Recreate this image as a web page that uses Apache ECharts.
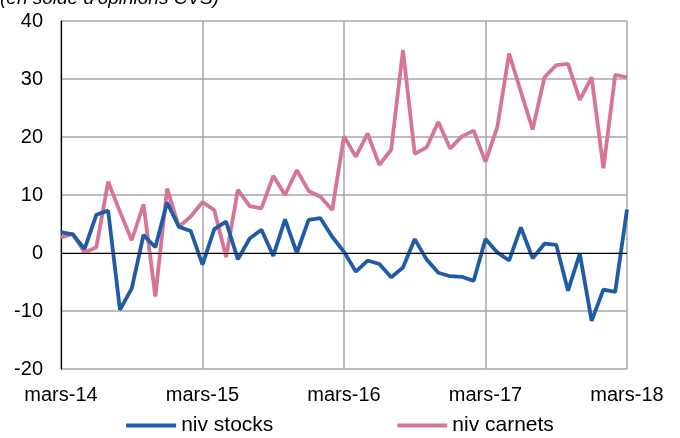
<!DOCTYPE html>
<html><head><meta charset="utf-8">
<script src="https://cdn.jsdelivr.net/npm/echarts@6/dist/echarts.min.js"></script>
<style>html,body{margin:0;padding:0;background:#fff}#c{width:680px;height:438px}</style>
</head><body><div id="c"></div>
<script>
var months = [];
var mNames = ['mars','avr','mai','juin','juil','août','sept','oct','nov','déc','janv','févr'];
// 49 monthly categories, mars-14 .. mars-18
var startYear = 14;
for (var i = 0; i < 49; i++) {
  var y = startYear + Math.floor((i + 2) / 12);
  months.push(mNames[i % 12] + '-' + y);
}
var stocks = [3.6, 3.2, 0.7, 6.6, 7.3, -9.8, -6.1, 3.1, 1.0, 8.7, 4.5, 3.8,
  -2.0, 4.1, 5.4, -1.1, 2.5, 4.0, -0.5, 5.8, 0.0, 5.7, 6.0, 2.8,
  0.2, -3.2, -1.3, -1.9, -4.2, -2.5, 2.4, -1.1, -3.4, -4.0, -4.1, -4.8,
  2.4, 0.1, -1.3, 4.4, -0.9, 1.6, 1.4, -6.5, -0.1, -11.7, -6.3, -6.7, 7.5];
var carnets = [2.7, 3.3, 0.1, 1.0, 12.3, 7.1, 2.2, 8.4, -7.5, 11.1, 4.5, 6.3,
  8.8, 7.4, -0.7, 10.9, 8.1, 7.7, 13.3, 10.0, 14.3, 10.7, 9.7, 7.4,
  20.1, 16.6, 20.6, 15.2, 17.8, 35.0, 17.1, 18.2, 22.6, 18.0, 20.1, 21.1,
  15.7, 21.7, 34.4, 27.8, 21.3, 30.3, 32.4, 32.6, 26.4, 30.3, 14.6, 30.7, 30.3];
var yTicks = {min: -20, max: 40, interval: 10};
var subtitle = "(en solde d'opinions CVS)";

var chart = echarts.init(document.getElementById('c'));
var font = 'Liberation Sans, Arial, sans-serif';
chart.setOption({
  animation: false,
  textStyle: {fontFamily: font},
  graphic: [{type: 'text', left: 0, top: -11,
    style: {text: subtitle, font: 'italic 19px Liberation Sans, Arial, sans-serif', fill: '#000'}}],
  grid: {left: 61, right: 53, top: 21, bottom: 69, containLabel: false},
  legend: {
    top: 415, left: 'center', padding: 0, itemWidth: 50, itemHeight: 4, itemGap: 124,
    icon: 'rect',
    textStyle: {fontSize: 21, color: '#000', fontFamily: font},
    data: ['niv stocks', 'niv carnets']
  },
  xAxis: {
    type: 'category', data: months, boundaryGap: false,
    axisLine: {show: false}, axisTick: {show: false},
    axisLabel: {interval: 11, fontSize: 20, color: '#000', margin: 16, fontFamily: font},
    splitLine: {show: true, interval: 11, lineStyle: {color: '#a6a6a6', width: 1.5}}
  },
  yAxis: {
    type: 'value', min: yTicks.min, max: yTicks.max, interval: yTicks.interval,
    axisLine: {show: true, lineStyle: {color: '#000', width: 1.2}},
    axisTick: {show: false},
    axisLabel: {fontSize: 20, color: '#000', margin: 18, fontFamily: font},
    splitLine: {show: true, lineStyle: {color: '#a6a6a6', width: 1.5}}
  },
  series: [
    {name: 'niv stocks', type: 'line', data: stocks, showSymbol: false, symbol: 'none',
      lineStyle: {color: '#1f5ca8', width: 3.8}, itemStyle: {color: '#1f5ca8'}, z: 3,
      markLine: {silent: true, symbol: 'none', label: {show: false},
        lineStyle: {color: '#000', width: 1.2, type: 'solid'}, data: [{yAxis: 0}]}},
    {name: 'niv carnets', type: 'line', data: carnets, showSymbol: false, symbol: 'none',
      lineStyle: {color: '#d67598', width: 3.8}, itemStyle: {color: '#d67598'}, z: 2}
  ]
});
</script></body></html>
